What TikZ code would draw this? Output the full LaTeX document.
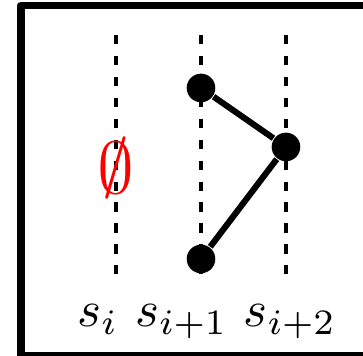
\documentclass[tikz,border=0pt]{standalone}
\usepackage{amsmath,amssymb}
\tikzset{
	vertex/.style={circle, fill=black, inner sep=0pt, minimum size=5.6pt},
	guide/.style={line width=0.75pt, dash pattern=on 1.8pt off 2.3pt},
}

\begin{document}
\begin{tikzpicture}[x=0.585cm, y=0.585cm, every node/.style={font=\normalsize}]
	\clip (0,0) rectangle (4.271,4.188);
	\draw[line width=1.4pt, line join=round] (0.247,0) rectangle (4.32,4.124);
	% the three slots
	\draw[guide] (1.365,3.776) -- (1.365,0.894);
	\draw[guide] (2.365,3.776) -- (2.365,0.894);
	\draw[guide] (3.365,3.776) -- (3.365,0.894);
	\node[vertex] (top) at (2.365,3.153) {};
	\node[vertex] (mid) at (3.365,2.459) {};
	\node[vertex] (low) at (2.365,1.141) {};
	\draw[line width=1.2pt] (top) -- (mid) -- (low);
	\node[red, font=\Large] (empty) at (1.365,2.212) {$\emptyset$};
	\node[anchor=base] (si) at (1.153,0.341) {$s_i$};
	\node[anchor=base] (sii) at (2.135,0.341) {$s_{i+1}$};
	\node[anchor=base] (siii) at (3.412,0.341) {$s_{i+2}$};
\end{tikzpicture}
\end{document}
